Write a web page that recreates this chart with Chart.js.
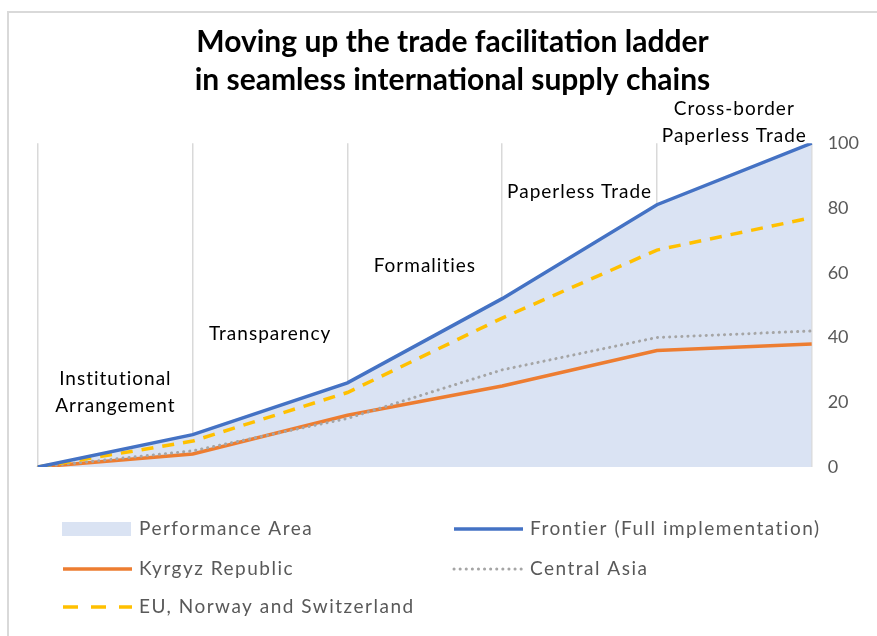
<!DOCTYPE html>
<html>
<head>
<meta charset="utf-8">
<script src="https://cdn.jsdelivr.net/npm/chart.js@4.4.0/dist/chart.umd.min.js"></script>
<style>
    html, body { margin: 0; padding: 0; background: #fff; overflow: hidden; }
    #frame {
        position: absolute; left: 7px; top: 11px; width: 900px; height: 700px;
        border-left: 2px solid #d9d9d9; border-top: 2px solid #d9d9d9;
    }
    #wrap { position: absolute; left: 0; top: 0; width: 877px; height: 636px; }
</style>
</head>
<body>
<div id="frame"></div>
<div id="wrap"><canvas id="chart" width="877" height="636"></canvas></div>
<script>
// Steps of the ladder (first point is the starting point)
const steps = ['Start', 'Institutional Arrangement', 'Transparency', 'Formalities', 'Paperless Trade', 'Cross-border Paperless Trade']

// Stage labels drawn between the gridlines, and the height (in y units) they sit at
const stageLabels = [
    ['Institutional', 'Arrangement'],
    ['Transparency'],
    ['Formalities'],
    ['Paperless Trade'],
    ['Cross-border', 'Paperless Trade']
]
const stageLevels = [23, 41, 62, 85, 106.5]

// Series values
const frontier = [0, 10, 26, 52, 81, 100]
const euNorwaySwitzerland = [0, 8, 23, 46, 67, 77]
const centralAsia = [0, 5, 15, 30, 40, 42]
const kyrgyz = [0, 4, 16, 25, 36, 38]

const yTicks = [0, 20, 40, 60, 80, 100]

const FONT = 'Lato, "Open Sans", sans-serif'

// Draws the stage names inside each column
const stageLabelPlugin = {
    id: 'stageLabels',
    afterDatasetsDraw(chart) {
        const ctx = chart.ctx
        const x = chart.scales.x
        const y = chart.scales.y
        ctx.save()
        ctx.font = `19px ${FONT}`
        ctx.letterSpacing = '1px'
        ctx.fillStyle = '#000'
        ctx.textAlign = 'center'
        ctx.textBaseline = 'middle'
        stageLabels.forEach((lines, i) => {
            const cx = (x.getPixelForValue(i) + x.getPixelForValue(i + 1)) / 2
            const cy = y.getPixelForValue(stageLevels[i])
            const lh = 27
            lines.forEach((line, j) => {
                ctx.fillText(line, cx, cy + (j - (lines.length - 1) / 2) * lh)
            })
        })
        ctx.restore()
    }
}

// Two column legend at the bottom, drawn from the dataset styles
const legendPlugin = {
    id: 'customLegend',
    afterDraw(chart) {
        const ctx = chart.ctx
        const cols = [62, 453]
        const rows = [529, 569, 607]
        ctx.save()
        ctx.font = `19px ${FONT}`
        ctx.letterSpacing = '1.5px'
        ctx.textBaseline = 'middle'
        chart.data.datasets.forEach((ds, k) => {
            const sx = cols[k % 2]
            const sy = rows[Math.floor(k / 2)]
            if (k === 0) {
                ctx.fillStyle = ds.backgroundColor
                ctx.fillRect(sx, sy - 7, 69, 14)
            } else {
                ctx.strokeStyle = ds.borderColor
                ctx.lineWidth = ds.borderWidth
                ctx.lineCap = ds.borderCapStyle || 'butt'
                ctx.setLineDash(ds.borderDash ? (ds.legendDash || ds.borderDash) : [])
                ctx.beginPath()
                ctx.moveTo(sx + 1, sy)
                ctx.lineTo(sx + 70, sy)
                ctx.stroke()
                ctx.setLineDash([])
            }
            ctx.fillStyle = '#595959'
            ctx.fillText(ds.label, sx + 77, sy)
        })
        ctx.restore()
    }
}

new Chart(document.getElementById('chart'), {
    type: 'line',
    data: {
        labels: steps,
        datasets: [
            {label: 'Performance Area', data: frontier, fill: 'origin', backgroundColor: '#dae3f3', borderWidth: 0, borderColor: 'rgba(0,0,0,0)', pointRadius: 0, order: 5},
            {label: 'Frontier (Full implementation)', data: frontier, fill: false, borderColor: '#4472c4', borderWidth: 3.5, pointRadius: 0, order: 1},
            {label: 'Kyrgyz Republic', data: kyrgyz, fill: false, borderColor: '#ed7d31', borderWidth: 3.5, pointRadius: 0, order: 4},
            {label: 'Central Asia', data: centralAsia, fill: false, borderColor: '#a5a5a5', borderWidth: 3, borderDash: [0.1, 6], borderCapStyle: 'round', pointRadius: 0, order: 3},
            {label: 'EU, Norway and Switzerland', data: euNorwaySwitzerland, fill: false, borderColor: '#ffc000', borderWidth: 3.5, borderDash: [12, 9], legendDash: [15, 13], pointRadius: 0, order: 2}
        ]
    },
    options: {
        responsive: false,
        animation: false,
        layout: {padding: {left: 38, right: 10, top: 0, bottom: 169}},
        plugins: {
            legend: {display: false},
            tooltip: {enabled: false},
            title: {
                display: true,
                text: ['Moving up the trade facilitation ladder', 'in seamless international supply chains'],
                color: '#000',
                font: {family: FONT, size: 30, weight: 'bold', lineHeight: 1.27},
                padding: {top: 23, bottom: 44}
            }
        },
        scales: {
            x: {
                offset: false,
                grid: {display: true, color: '#d9d9d9', lineWidth: 1.5, drawTicks: false},
                border: {display: false},
                ticks: {display: false}
            },
            y: {
                position: 'right',
                min: 0,
                max: 100,
                afterBuildTicks: axis => { axis.ticks = yTicks.map(v => ({value: v})) },
                grid: {display: false},
                border: {display: false},
                ticks: {color: '#595959', font: {family: FONT, size: 18}, padding: 8}
            }
        }
    },
    plugins: [stageLabelPlugin, legendPlugin]
})
</script>
</body>
</html>
